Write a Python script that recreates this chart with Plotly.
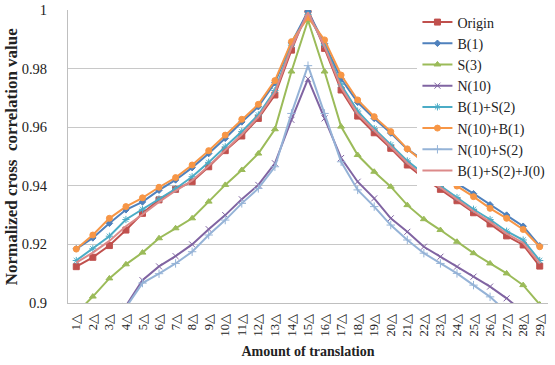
import plotly.graph_objects as go

categories = [f"{i}\u25b3" for i in range(1, 30)]

origin = [0.9124, 0.9156, 0.9196, 0.9249, 0.9306, 0.9352, 0.9388, 0.9414, 0.9465, 0.952,
          0.957, 0.963, 0.971, 0.9863, 1.0, 0.9869, 0.9727, 0.9638, 0.9581, 0.9528,
          0.9471, 0.9426, 0.9388, 0.9349, 0.9308, 0.927, 0.9229, 0.9198, 0.9126]
b1 = [0.9185, 0.9222, 0.9272, 0.9318, 0.9345, 0.9385, 0.942, 0.9462, 0.951, 0.9562,
      0.9618, 0.967, 0.9752, 0.9888, 0.9995, 0.9885, 0.9765, 0.9685, 0.963, 0.958,
      0.9525, 0.9485, 0.9447, 0.9408, 0.9373, 0.9335, 0.93, 0.9262, 0.9195]
s3 = [0.8965, 0.9022, 0.9084, 0.9132, 0.9172, 0.9221, 0.9255, 0.9289, 0.9346, 0.9403,
      0.9454, 0.951, 0.9593, 0.979, 0.9965, 0.979, 0.9602, 0.9505, 0.9448, 0.9397,
      0.9334, 0.9286, 0.9249, 0.9209, 0.917, 0.9135, 0.9101, 0.9061, 0.8995]
n10 = [0.884, 0.888, 0.893, 0.899, 0.9078, 0.9125, 0.916, 0.92, 0.9252, 0.930,
       0.9354, 0.9403, 0.9477, 0.9625, 0.9765, 0.963, 0.9495, 0.9414, 0.9357, 0.9289,
       0.9243, 0.9192, 0.9158, 0.9124, 0.909, 0.9056, 0.9016, 0.897, 0.893]
b1s2 = [0.9145, 0.9185, 0.9228, 0.9285, 0.932, 0.9355, 0.939, 0.9431, 0.948, 0.9533,
        0.9585, 0.9642, 0.9725, 0.988, 0.9985, 0.988, 0.9745, 0.9655, 0.9595, 0.954,
        0.9485, 0.944, 0.940, 0.936, 0.932, 0.9285, 0.9245, 0.9215, 0.9145]
n10b1 = [0.9184, 0.9232, 0.9289, 0.9329, 0.9359, 0.9395, 0.9428, 0.9471, 0.952, 0.9573,
         0.9627, 0.9678, 0.9759, 0.9892, 0.9975, 0.9898, 0.9778, 0.9693, 0.9636, 0.9585,
         0.9526, 0.948, 0.9443, 0.9399, 0.9363, 0.9323, 0.9289, 0.9251, 0.9192]
n10s2 = [0.883, 0.887, 0.892, 0.8985, 0.9068, 0.91, 0.9135, 0.9175, 0.9232, 0.9283,
         0.934, 0.9391, 0.9465, 0.9647, 0.981, 0.9647, 0.9482, 0.9386, 0.9329, 0.9266,
         0.9215, 0.917, 0.9135, 0.9101, 0.9061, 0.9021, 0.897, 0.892, 0.888]
b1s2j0 = [0.9138, 0.9172, 0.9212, 0.9262, 0.9302, 0.9345, 0.9383, 0.9418, 0.9468, 0.9522,
          0.9575, 0.9635, 0.9718, 0.9872, 0.9992, 0.9875, 0.9735, 0.9645, 0.9588, 0.9533,
          0.9478, 0.9432, 0.9394, 0.9354, 0.9313, 0.9277, 0.9237, 0.9205, 0.9135]

y_ticks = [0.9, 0.92, 0.94, 0.96, 0.98, 1.0]
y_tick_labels = ["0.9", "0.92", "0.94", "0.96", "0.98", "1"]

series = [
    ("Origin", origin, "#C0504D", "square", 6),
    ("B(1)", b1, "#4F81BD", "diamond", 5),
    ("S(3)", s3, "#9BBB59", "triangle-up", 6),
    ("N(10)", n10, "#8064A2", "x-thin-open", 6),
    ("B(1)+S(2)", b1s2, "#4BACC6", "asterisk-open", 6),
    ("N(10)+B(1)", n10b1, "#F79646", "circle", 6),
    ("N(10)+S(2)", n10s2, "#95B3D7", "cross-thin-open", 6),
    ("B(1)+S(2)+J(0)", b1s2j0, "#DC8A8A", None, 0),
]

fig = go.Figure()
for name, vals, color, sym, size in series:
    if sym is None:
        fig.add_trace(go.Scatter(x=categories, y=vals, name=name, mode="lines",
                                 line=dict(color=color, width=2)))
    else:
        fig.add_trace(go.Scatter(x=categories, y=vals, name=name, mode="lines+markers",
                                 line=dict(color=color, width=2),
                                 marker=dict(symbol=sym, size=size, color=color,
                                             line=dict(color=color, width=1))))

font_family = "Liberation Serif, Times New Roman, serif"
fig.update_layout(
    width=555, height=365,
    margin=dict(l=68, r=7, t=10, b=62, autoexpand=False),
    paper_bgcolor="white", plot_bgcolor="white",
    font=dict(family=font_family, color="#222222", size=13),
    showlegend=True,
    legend=dict(x=0.728, y=1.012, xanchor="left", yanchor="top",
                bgcolor="white", font=dict(size=14, family=font_family, color="#222222"),
                itemwidth=30, tracegroupgap=0),
    xaxis=dict(type="category", range=[-0.5, 28.5], tickangle=-90,
               tickmode="array", tickvals=categories, ticktext=categories,
               tickfont=dict(size=12.5, family=font_family), showgrid=False,
               showline=True, linecolor="#BFBFBF", linewidth=1, ticks="",
               ticklabelstandoff=5,
               title=dict(text="<b>Amount of translation</b>", font=dict(size=14), standoff=10)),
    yaxis=dict(range=[0.9, 1.0], tickvals=y_ticks, ticktext=y_tick_labels,
               tickfont=dict(size=14.5, family=font_family),
               showgrid=True, gridcolor="#C8C8C8", gridwidth=1,
               showline=True, linecolor="#BFBFBF", linewidth=1, ticks="",
               ticklabelstandoff=17,
               zeroline=False),
    annotations=[dict(text="<b>Normalized cross  correlation value</b>",
                      xref="paper", yref="paper", x=-0.117, y=0.5,
                      xanchor="center", yanchor="middle", textangle=-90,
                      showarrow=False, font=dict(size=17, family=font_family, color="#222222"))],
)

fig.write_html("out.html", config={"displayModeBar": False},
               post_script="document.body.style.margin='0';document.body.style.overflow='hidden';")
